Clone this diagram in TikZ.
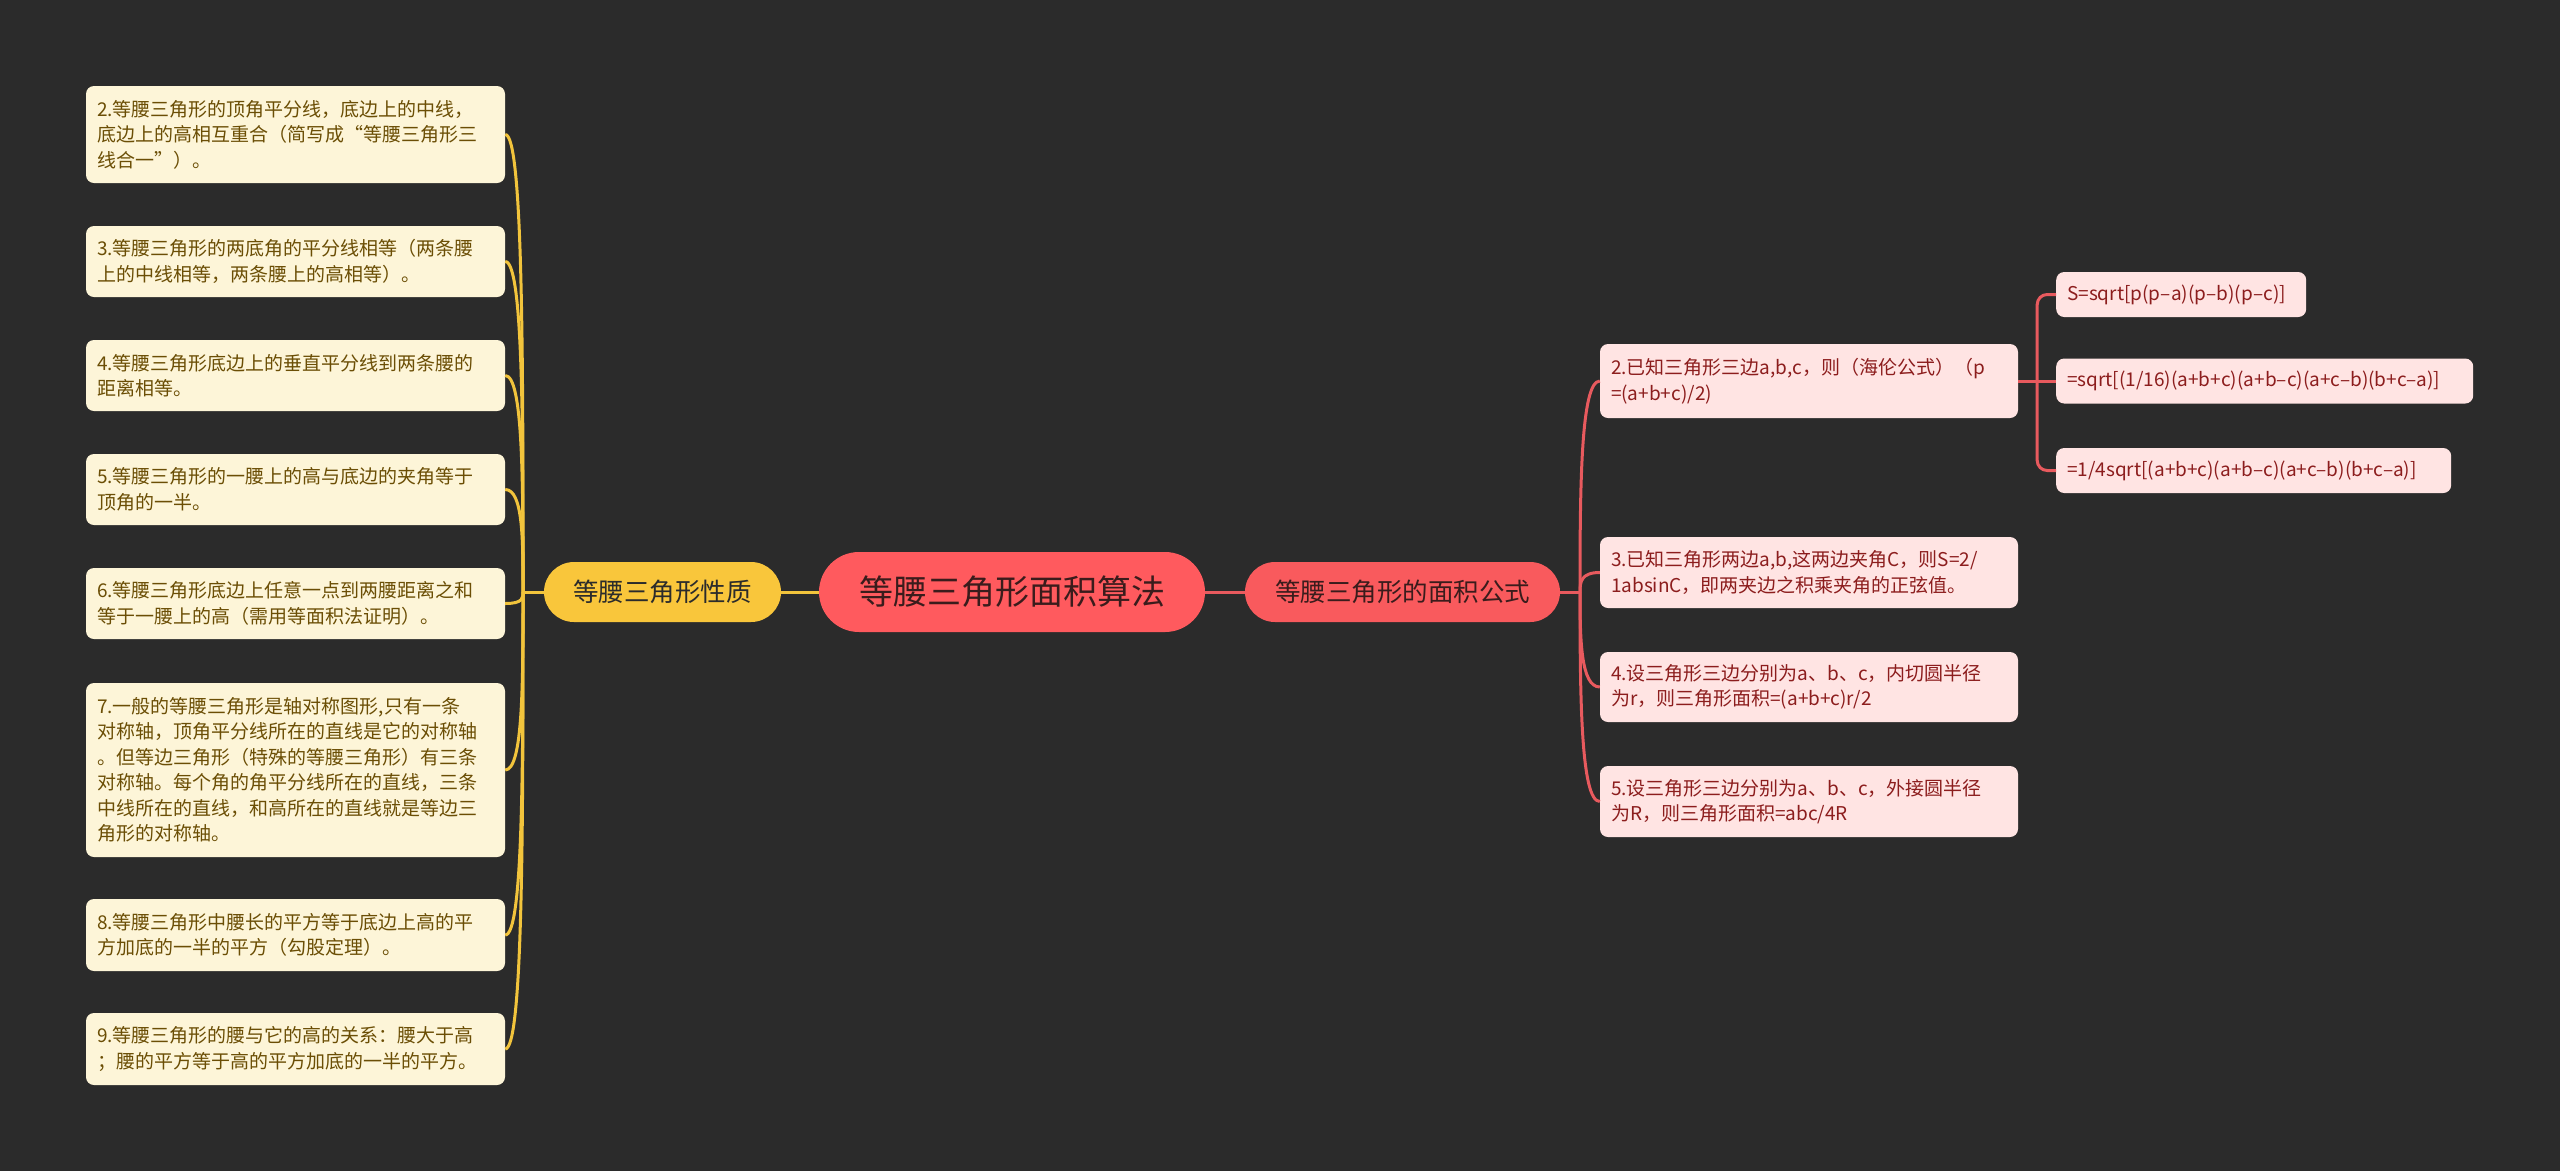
\documentclass[tikz,border=0pt]{standalone}
\usepackage{fontspec}
\setmainfont{Noto Sans CJK SC}
\usepackage{xcolor}
\usetikzlibrary{calc}
\definecolor{bgdark}{HTML}{2B2B2B}
\definecolor{rootred}{HTML}{FF5A5E}
\definecolor{topicred}{HTML}{F95A5D}
\definecolor{topicyellow}{HTML}{F9C63B}
\definecolor{creamfill}{HTML}{FDF5D8}
\definecolor{creamtext}{HTML}{6B4E05}
\definecolor{pinkfill}{HTML}{FFE4E3}
\definecolor{pinktext}{HTML}{8C1D1D}
\definecolor{lineyellow}{HTML}{F2C43C}
\definecolor{linered}{HTML}{E85A5E}
\definecolor{darktext}{HTML}{3A1C1C}
\tikzset{
    root/.style={fill=rootred, text=darktext, rounded corners=40pt, minimum width=386pt, minimum height=80pt, font=\fontsize{34}{40}\selectfont},
    topic/.style={rounded corners=30pt, minimum height=60pt, font=\fontsize{25.5}{30}\selectfont},
    leaf/.style={rounded corners=8pt, inner xsep=11pt, inner ysep=6pt, align=left, font=\fontsize{19}{25.5}\selectfont},
    leafL/.style={leaf, fill=creamfill, text=creamtext, text width=397pt, minimum height=#1},
    leafR/.style={leaf, fill=pinkfill, text=pinktext, text width=396pt, minimum height=#1},
    % formula boxes hang off the Heron node, left edge at a fixed x
    sub/.style={leaf, fill=pinkfill, text=pinktext, text width=#1, minimum height=45pt, anchor=west},
    lline/.style={draw=lineyellow, line width=3pt},
    rline/.style={draw=linered, line width=3pt},
}

\begin{document}
\begin{tikzpicture}[x=1pt, y=-1pt]
    \fill[bgdark] (0,0) rectangle (2560,1171);

    \node[root] (root) at (1012,592) {等腰三角形面积算法};
    \node[topic, fill=topicyellow, text=bgdark, minimum width=237pt] (props) at (662.5,592) {等腰三角形性质};
    \node[topic, fill=topicred, text=darktext, minimum width=315pt] (area) at (1402.5,592) {等腰三角形的面积公式};

    % properties
    \node[leafL=97pt] (prop1) at (295.5,134.5) {2.等腰三角形的顶角平分线，底边上的中线，\\底边上的高相互重合（简写成“等腰三角形三\\线合一”）。};
    \node[leafL=71pt] (prop2) at (295.5,261.5) {3.等腰三角形的两底角的平分线相等（两条腰\\上的中线相等，两条腰上的高相等）。};
    \node[leafL=71pt] (prop3) at (295.5,375.5) {4.等腰三角形底边上的垂直平分线到两条腰的\\距离相等。};
    \node[leafL=71pt] (prop4) at (295.5,489.5) {5.等腰三角形的一腰上的高与底边的夹角等于\\顶角的一半。};
    \node[leafL=71pt] (prop5) at (295.5,603.5) {6.等腰三角形底边上任意一点到两腰距离之和\\等于一腰上的高（需用等面积法证明）。};
    \node[leafL=174pt] (prop6) at (295.5,770) {7.一般的等腰三角形是轴对称图形,只有一条\\对称轴，顶角平分线所在的直线是它的对称轴\\。但等边三角形（特殊的等腰三角形）有三条\\对称轴。每个角的角平分线所在的直线，三条\\中线所在的直线，和高所在的直线就是等边三\\角形的对称轴。};
    \node[leafL=72pt] (prop7) at (295.5,935) {8.等腰三角形中腰长的平方等于底边上高的平\\方加底的一半的平方（勾股定理）。};
    \node[leafL=72pt] (prop8) at (295.5,1049) {9.等腰三角形的腰与它的高的关系：腰大于高\\；腰的平方等于高的平方加底的一半的平方。};

    % area formulas
    \node[leafR=74pt] (heron) at (1809,381) {2.已知三角形三边a,b,c，则（海伦公式）（p\\=(a+b+c)/2)};
    \node[leafR=71pt] (twosides) at (1809,572.5) {3.已知三角形两边a,b,这两边夹角C，则S=2/\\1absinC，即两夹边之积乘夹角的正弦值。};
    \node[leafR=70pt] (inradius) at (1809,687) {4.设三角形三边分别为a、b、c，内切圆半径\\为r，则三角形面积=(a+b+c)r/2};
    \node[leafR=71pt] (circum) at (1809,801.5) {5.设三角形三边分别为a、b、c，外接圆半径\\为R，则三角形面积=abc/4R};

    \node[sub=228pt] (heronA) at (2056,294.5) {S=sqrt[p(p–a)(p–b)(p–c)]};
    \node[sub=395pt] (heronB) at (2056,381) {=sqrt[(1/16)(a+b+c)(a+b–c)(a+c–b)(b+c–a)]};
    \node[sub=373pt] (heronC) at (2056,470.5) {=1/4sqrt[(a+b+c)(a+b–c)(a+c–b)(b+c–a)]};

    \coordinate (jl) at (523,592);
    \coordinate (jr) at (1580,592);
    \coordinate (jh) at ($(heron.east)+(19,0)$);

    \draw[lline] (root.west) -- (props.east);
    \draw[rline] (root.east) -- (area.west);
    \draw[lline] (props.west) -- (jl);
    \draw[rline] (area.east) -- (jr);

    \foreach \n in {1,...,8}
        \draw[lline] (jl) .. controls ($(jl)!0.5!(jl|-prop\n.east)$) and ($(prop\n.east)+(18,0)$) .. (prop\n.east);
    \foreach \n in {heron,twosides,inradius,circum}
        \draw[rline] (jr) .. controls ($(jr)!0.5!(jr|-\n.west)$) and ($(\n.west)+(-19,0)$) .. (\n.west);

    \draw[rline] (heron.east) -- (heronB.west);
    \draw[rline, rounded corners=10pt] (jh) |- (heronA.west);
    \draw[rline, rounded corners=10pt] (jh) |- (heronC.west);
\end{tikzpicture}
\end{document}
